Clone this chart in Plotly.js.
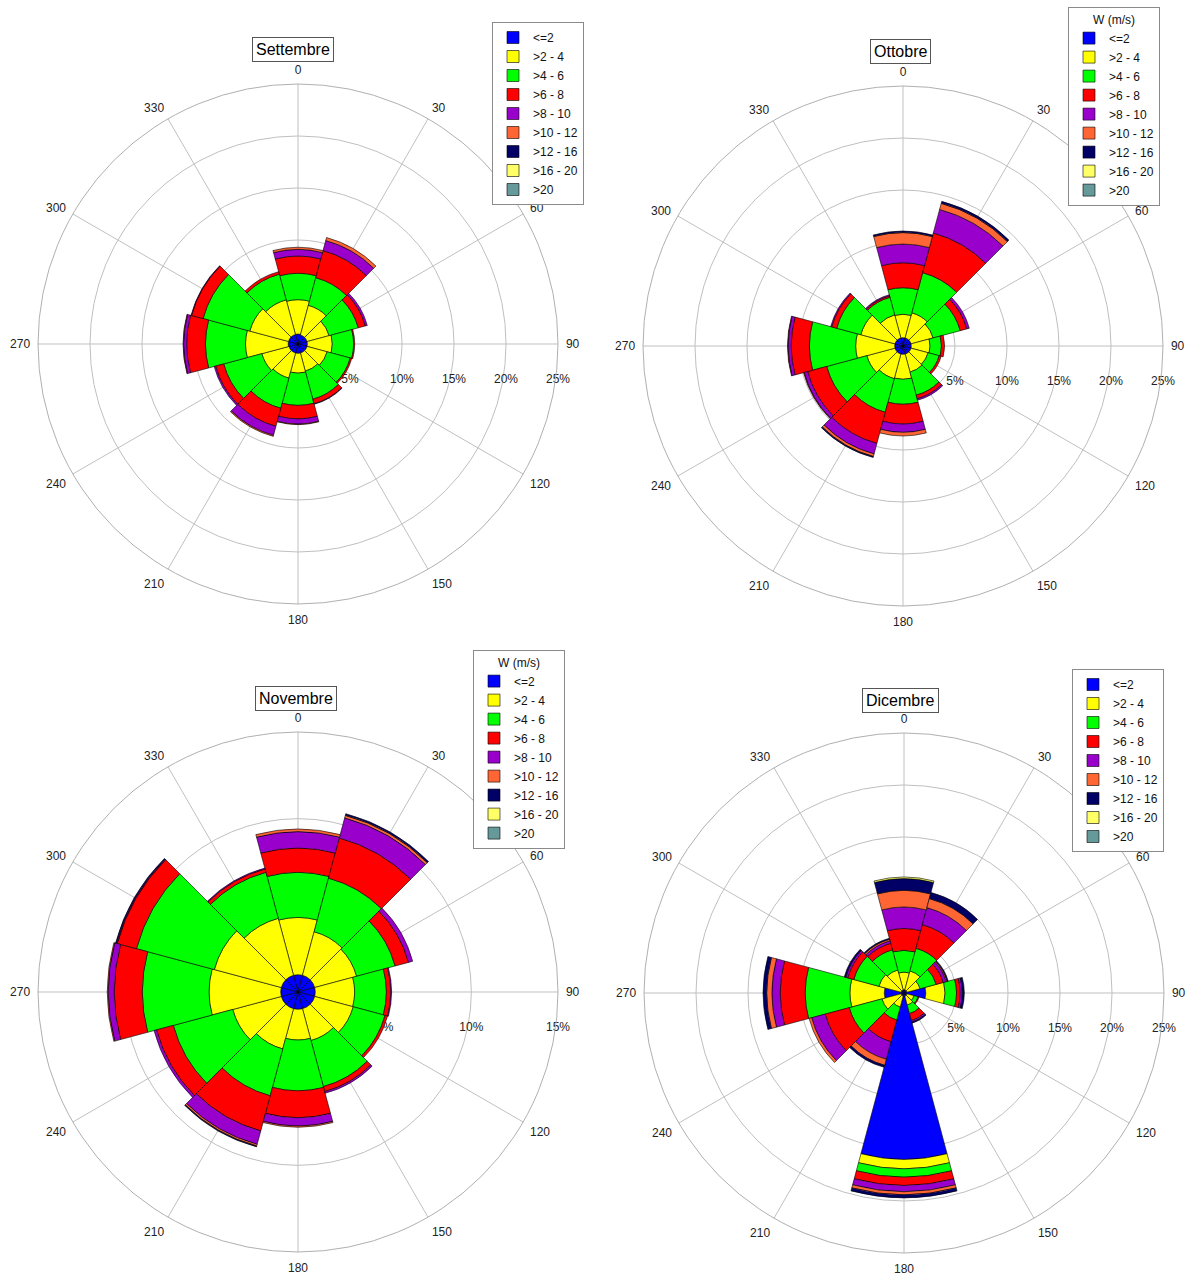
<!DOCTYPE html>
<html><head><meta charset="utf-8">
<script src="https://cdn.plot.ly/plotly-3.0.1.min.js"></script>
<style>html,body{margin:0;padding:0;background:#fff}#chart{width:1192px;height:1277px}</style>
</head><body><div id="chart"></div>
<script>
// Directions (degrees, sector centres, 30° sectors)
const directions = [0, 30, 60, 90, 120, 150, 180, 210, 240, 270, 300, 330];
const directionLabels = ['0','30','60','90','120','150','180','210','240','270','300','330'];
// Wind speed classes W (m/s)
const speedClasses = ['<=2', '>2 - 4', '>4 - 6', '>6 - 8', '>8 - 10', '>10 - 12', '>12 - 16', '>16 - 20', '>20'];
const monthNames = ['Settembre', 'Ottobre', 'Novembre', 'Dicembre'];
const radialTicks = [5, 10, 15, 20, 25];
const radialTickLabels = ['5%', '10%', '15%', '20%', '25%'];
const radialTicksNov = [5, 10, 15];
const radialTickLabelsNov = ['5%', '10%', '15%'];

// Settembre (% frequency per direction)
const set_c1 = [0.96, 0.9, 0.9, 0.9, 0.9, 0.9, 0.9, 0.9, 0.9, 0.95, 0.95, 0.95];
const set_c2 = [3.30, 2.95, 2.2, 2.4, 2.0, 1.8, 1.9, 2.5, 2.7, 4.1, 3.85, 3.45];
const set_c3 = [2.54, 2.75, 2.9, 2.05, 2.3, 2.8, 3.1, 3.0, 3.8, 3.85, 4.65, 2.55];
const set_c4 = [1.66, 2.7, 0.7, 0.1, 0.15, 0.45, 1.3, 1.8, 0.8, 1.8, 1.15, 0.25];
const set_c5 = [0.64, 1.0, 0.2, 0, 0, 0.05, 0.5, 0.9, 0.15, 0.3, 0.05, 0];
const set_c6 = [0.2, 0.3, 0, 0, 0, 0, 0.05, 0.1, 0, 0.05, 0, 0];
const set_c7 = [0, 0, 0, 0, 0, 0, 0, 0, 0, 0, 0, 0];
const set_c8 = [0, 0, 0, 0, 0, 0, 0, 0, 0, 0, 0, 0];
const set_c9 = [0, 0, 0, 0, 0, 0, 0, 0, 0, 0, 0, 0];

// Ottobre
const ott_c1 = [0.8, 0.8, 0.8, 0.8, 0.8, 0.8, 0.8, 0.8, 0.8, 0.8, 0.8, 0.8];
const ott_c2 = [2.25, 2.5, 2.2, 1.8, 1.7, 1.8, 2.4, 2.45, 2.8, 3.75, 3.4, 2.3];
const ott_c3 = [2.55, 4.0, 2.7, 1.1, 1.1, 2.3, 2.4, 3.35, 4.0, 4.45, 2.4, 1.75];
const ott_c4 = [2.4, 3.95, 0.65, 0.3, 0.2, 0.35, 1.9, 3.1, 1.9, 1.75, 0.5, 0.15];
const ott_c5 = [1.8, 2.35, 0.25, 0, 0, 0.15, 0.8, 1.05, 0.35, 0.3, 0.1, 0.1];
const ott_c6 = [1.1, 0.6, 0, 0, 0, 0, 0.35, 0.25, 0.05, 0.05, 0, 0];
const ott_c7 = [0.15, 0.2, 0, 0, 0, 0, 0, 0.1, 0, 0, 0, 0];
const ott_c8 = [0, 0, 0, 0, 0, 0, 0, 0, 0, 0, 0, 0];
const ott_c9 = [0, 0, 0, 0, 0, 0, 0, 0, 0, 0, 0, 0];

// Novembre
const nov_c1 = [1.0, 1.0, 1.0, 1.0, 1.0, 1.0, 1.0, 1.0, 1.0, 1.0, 1.0, 1.0];
const nov_c2 = [3.3, 2.6, 2.5, 2.27, 2.3, 1.9, 1.77, 2.4, 2.9, 4.13, 4.0, 3.4];
const nov_c3 = [2.6, 3.2, 2.3, 1.83, 1.9, 2.75, 2.93, 2.8, 3.55, 3.85, 4.65, 2.75];
const nov_c4 = [1.4, 2.4, 0.8, 0.25, 0.15, 0.3, 1.55, 2.1, 1.0, 1.62, 1.15, 0.2];
const nov_c5 = [0.95, 1.2, 0.25, 0.05, 0, 0.1, 0.48, 0.8, 0.15, 0.35, 0.05, 0.05];
const nov_c6 = [0.15, 0.15, 0, 0, 0, 0, 0.07, 0.1, 0, 0.05, 0, 0];
const nov_c7 = [0, 0.1, 0, 0, 0, 0, 0, 0.05, 0, 0, 0.05, 0];
const nov_c8 = [0, 0, 0, 0, 0, 0, 0, 0, 0, 0, 0, 0];
const nov_c9 = [0, 0, 0, 0, 0, 0, 0, 0, 0, 0, 0, 0];

// Dicembre
const dic_c1 = [0.3, 0.3, 0.3, 2.1, 0.3, 0.3, 16.0, 0.3, 0.3, 1.9, 0.3, 0.3];
const dic_c2 = [1.7, 1.9, 1.3, 1.85, 0.7, 0.9, 0.9, 1.1, 1.9, 3.3, 2.2, 2.0];
const dic_c3 = [2.1, 2.25, 1.6, 1.1, 0.4, 0.85, 0.8, 1.3, 3.25, 4.3, 2.5, 2.0];
const dic_c4 = [2.1, 2.35, 0.7, 0.35, 0.1, 0.7, 0.8, 2.15, 2.4, 2.4, 0.6, 0.65];
const dic_c5 = [2.07, 1.7, 0.3, 0.2, 0, 0.15, 0.6, 1.75, 1.35, 0.8, 0.2, 0.25];
const dic_c6 = [1.6, 0.9, 0.1, 0, 0, 0, 0.3, 0.6, 0.25, 0.5, 0, 0.15];
const dic_c7 = [1.13, 0.6, 0.1, 0.2, 0, 0.1, 0.3, 0.2, 0, 0.35, 0.15, 0.1];
const dic_c8 = [0.15, 0, 0, 0, 0, 0, 0, 0, 0, 0, 0, 0];
const dic_c9 = [0, 0, 0, 0, 0, 0, 0, 0, 0, 0, 0, 0];

const classColors = ['#0000FF', '#FFFF00', '#00FF00', '#FF0000', '#9900CC', '#FF6633', '#000066', '#FFFF66', '#669999'];

const monthData = [
  [set_c1, set_c2, set_c3, set_c4, set_c5, set_c6, set_c7, set_c8, set_c9],
  [ott_c1, ott_c2, ott_c3, ott_c4, ott_c5, ott_c6, ott_c7, ott_c8, ott_c9],
  [nov_c1, nov_c2, nov_c3, nov_c4, nov_c5, nov_c6, nov_c7, nov_c8, nov_c9],
  [dic_c1, dic_c2, dic_c3, dic_c4, dic_c5, dic_c6, dic_c7, dic_c8, dic_c9]
];
const subplots = ['polar', 'polar2', 'polar3', 'polar4'];
const legends = ['legend', 'legend2', 'legend3', 'legend4'];

const FONT = 'Liberation Sans, Arial, sans-serif';
const traces = [];
monthData.forEach((series, m) => {
  series.forEach((vals, k) => {
    traces.push({
      type: 'barpolar',
      subplot: subplots[m],
      legend: legends[m],
      name: speedClasses[k],
      r: vals.map(v => (v === 0 ? null : v)),
      theta: directions,
      width: 30,
      marker: { color: classColors[k], line: { color: '#000000', width: 0.6 } },
      hoverinfo: 'skip'
    });
  });
});

function polarLayout(dx, dy, rmax, ticks, tickLabels) {
  return {
    domain: { x: dx, y: dy },
    bgcolor: 'rgba(0,0,0,0)',
    barmode: 'stack',
    bargap: 0,
    angularaxis: {
      direction: 'clockwise', rotation: 90,
      tickmode: 'array', tickvals: directions, ticktext: directionLabels,
      showgrid: true, gridcolor: '#c0c0c0', gridwidth: 1,
      showline: true, linecolor: '#b0b0b0', linewidth: 1,
      ticks: 'outside', ticklen: 5, tickcolor: 'rgba(0,0,0,0)',
      tickfont: { family: FONT, size: 12, color: '#222' }
    },
    radialaxis: {
      range: [0, rmax], tickmode: 'array', tickvals: ticks, ticktext: tickLabels,
      angle: 0, side: 'clockwise', tickangle: 0,
      ticks: 'outside', ticklen: 24, tickcolor: 'rgba(0,0,0,0)',
      showline: false, showgrid: true, gridcolor: '#c0c0c0', gridwidth: 1,
      layer: 'below traces',
      tickfont: { family: FONT, size: 12, color: '#222' }
    }
  };
}

function legendLayout(x, y, title) {
  const l = {
    x: x, y: y, xanchor: 'left', yanchor: 'top',
    bgcolor: '#ffffff', bordercolor: '#8a8a8a', borderwidth: 1,
    font: { family: FONT, size: 12, color: '#111' },
    traceorder: 'normal', tracegroupgap: 0, itemwidth: 30,
    itemclick: false, itemdoubleclick: false
  };
  if (title) l.title = { text: title, side: 'top center', font: { family: FONT, size: 12, color: '#111' } };
  return l;
}

function titleAnn(text, px, py) {
  return {
    text: text, x: px / 1192, y: 1 - py / 1277, xref: 'paper', yref: 'paper',
    xanchor: 'center', yanchor: 'middle', showarrow: false,
    font: { family: FONT, size: 16, color: '#000' },
    bgcolor: '#ffffff', bordercolor: '#555555', borderwidth: 1, borderpad: 3
  };
}

const layout = {
  width: 1192, height: 1277,
  margin: { l: 0, r: 0, t: 0, b: 0 },
  paper_bgcolor: '#ffffff',
  font: { family: FONT },
  showlegend: true,
  polar: polarLayout([0.03188, 0.46812], [0.52702, 0.93422], 25, radialTicks, radialTickLabels),
  polar2: polarLayout([0.53943, 0.97567], [0.52545, 0.93265], 25, radialTicks, radialTickLabels),
  polar3: polarLayout([0.03188, 0.46812], [0.01958, 0.42679], 15, radialTicksNov, radialTickLabelsNov),
  polar4: polarLayout([0.54027, 0.97651], [0.01880, 0.42600], 25, radialTicks, radialTickLabels),
  legend: legendLayout(492 / 1192, 1 - 22 / 1277, null),
  legend2: legendLayout(1068 / 1192, 1 - 7 / 1277, 'W (m/s)'),
  legend3: legendLayout(473 / 1192, 1 - 650 / 1277, 'W (m/s)'),
  legend4: legendLayout(1072 / 1192, 1 - 669 / 1277, null),
  annotations: [
    titleAnn(monthNames[0], 293, 50),
    titleAnn(monthNames[1], 900, 52),
    titleAnn(monthNames[2], 296, 698),
    titleAnn(monthNames[3], 900, 700)
  ]
};

Plotly.newPlot('chart', traces, layout, { staticPlot: true, displayModeBar: false });
</script>
</body></html>
